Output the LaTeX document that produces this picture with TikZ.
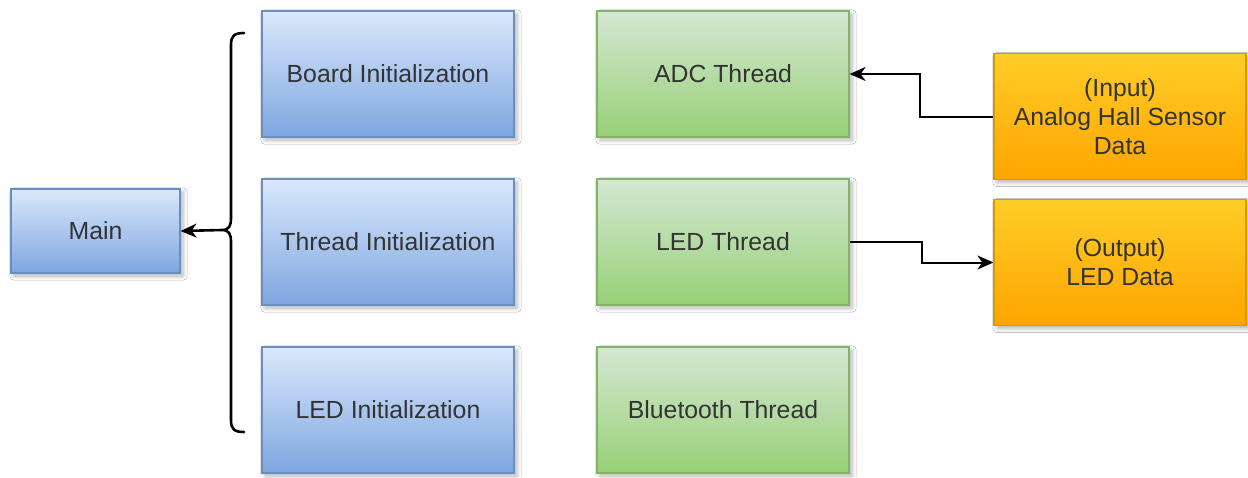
\documentclass[tikz,border=0pt]{standalone}
\usepackage{fontspec}
\setmainfont{Liberation Sans}
\usetikzlibrary{arrows.meta,shadows.blur}
\definecolor{blueTop}{HTML}{DAE8FC}
\definecolor{blueBot}{HTML}{7EA6E0}
\definecolor{blueLine}{HTML}{6C8EBF}
\definecolor{greenTop}{HTML}{D5E8D4}
\definecolor{greenBot}{HTML}{97D077}
\definecolor{greenLine}{HTML}{82B366}
\definecolor{orangeTop}{HTML}{FFCD28}
\definecolor{orangeBot}{HTML}{FFA500}
\definecolor{orangeLine}{HTML}{D79B00}
\definecolor{txt}{HTML}{333333}
\tikzset{
  box/.style={rectangle, draw, line width=0.6pt, align=center, text=txt,
    font=\fontsize{12.4}{14.6}\selectfont, inner sep=0pt,
    blur shadow={shadow xshift=1.5pt, shadow yshift=-1.5pt, shadow blur steps=4, shadow opacity=30}},
  bluebox/.style={box, draw=blueLine, top color=blueTop, bottom color=blueBot},
  greenbox/.style={box, draw=greenLine, top color=greenTop, bottom color=greenBot},
  orangebox/.style={box, draw=orangeLine, top color=orangeTop, bottom color=orangeBot},
  wide/.style={minimum width=126pt, minimum height=63pt},
  conn/.style={line width=1pt, -{Stealth[length=8pt,width=7pt,inset=2.5pt]}}
}
\begin{document}
\begin{tikzpicture}[x=0.5pt,y=-0.5pt]
\useasboundingbox (0,0) rectangle (1248,477);
\fill[white] (0,0) rectangle (1248,477);

% main entry
\node[bluebox, minimum width=84.5pt, minimum height=42pt] (main) at (95.5,231) {Main};

% initialization steps
\node[bluebox, wide] (board)  at (388,74)  {Board Initialization};
\node[bluebox, wide] (thinit) at (388,242) {Thread Initialization};
\node[bluebox, wide] (ledinit) at (388,410) {LED Initialization};

% threads
\node[greenbox, wide] (adc) at (723,74)  {ADC Thread};
\node[greenbox, wide] (led) at (723,242) {LED Thread};
\node[greenbox, wide] (bt)  at (723,410) {Bluetooth Thread};

% external data
\node[orangebox, wide] (inp) at (1120,116.5) {(Input)\\Analog Hall Sensor\\Data};
\node[orangebox, wide] (out) at (1120,262.5) {(Output)\\LED Data};

% brace grouping the initialization steps
\coordinate (tip) at (222,230);
\draw[line width=1.3pt, line cap=round]
  (244,33) .. controls (234,33) and (231,36) .. (231,45) -- (231,218)
  .. controls (231,226) and (229,230) .. (tip)
  .. controls (229,230) and (231,234) .. (231,242) -- (231,420)
  .. controls (231,429) and (234,432) .. (244,432);
\draw[conn, line width=1.3pt] (tip) -- (main.east);

% data connectors
\draw[conn] (inp.west) -- ++(-73,0) |- (adc.east);
\draw[conn] (led.east) -- ++(72,0) |- (out.west);
\end{tikzpicture}
\end{document}
